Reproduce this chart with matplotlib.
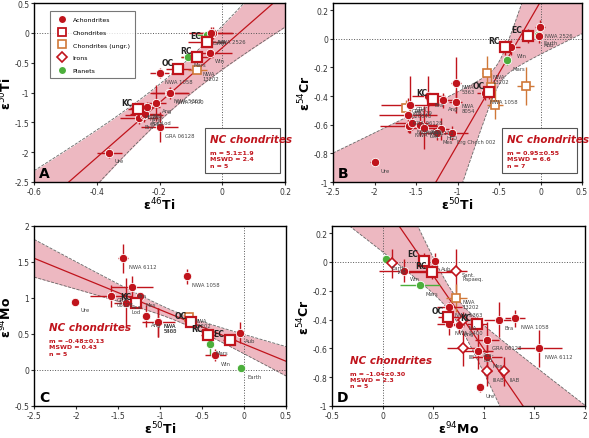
import numpy as np
import matplotlib
matplotlib.use("Agg")
import matplotlib.pyplot as plt
from matplotlib.patches import Rectangle
from matplotlib.lines import Line2D

RED = "#c0141c"; ORG = "#d07838"; GRN = "#4caf3c"; BAND = "#e8a0ac"

# ---------------- Panel A: e46Ti vs e50Ti ----------------
A_names = ["Ure","Bra","NWA\n6112","Aca-Lod","HED","KC","Mes","Ang","GRA 06128","NWA 5363","NWA 5400",
           "NWA 1058","OC","NWA\n13202","Mars","RC","EC","Win","Earth","NWA 2526","Aub"]
A_kind = ["a","a","a","a","a","c","a","a","a","a","a","a","c","u","p","c","c","a","p","a","a"]
A_x  = [-0.36,-0.265,-0.25,-0.245,-0.265,-0.27,-0.24,-0.21,-0.20,-0.17,-0.165,-0.20,-0.14,-0.08,-0.11,-0.08,-0.05,-0.04,-0.05,-0.03,-0.035]
A_y  = [-2.01,-1.43,-1.38,-1.36,-1.26,-1.28,-1.24,-1.17,-1.58,-1.00,-1.01,-0.67,-0.61,-0.63,-0.40,-0.41,-0.16,-0.33,-0.03,0.0,-0.01]
A_xe = [0.04,0.06,0.06,0.05,0.03,0.03,0.04,0.03,0.06,0.06,0.06,0.03,0.04,0.03,0.02,0.05,0.06,0.07,0.03,0.06,0.07]
A_ye = [0.08,0.10,0.12,0.10,0.05,0.06,0.08,0.30,0.25,0.08,0.10,0.08,0.07,0.05,0.02,0.06,0.08,0.06,0.03,0.10,0.10]

# ---------------- Panel B: e50Ti vs e54Cr ----------------
B_names = ["Ure","GRV\n020043","GRA\n06129","GRA 06128","NWA 7325","NWA 468","NWA 6112","Aca-\nLod","Bra","KC","Ang",
           "HED","Mes","Erg Chech 002","NWA\n5363","NWA\n8054","NWA 1058","OC","NWA\n13202","","","","Mars","RC","Win","EC","Earth","NWA 2526","Aub"]
B_kind = ["a","u","a","a","a","a","a","a","a","c","a","a","a","a","a","a","a","c","u","u","u","u","p","c","a","c","p","a","a"]
B_x  = [-2.0,-1.62,-1.57,-1.6,-1.58,-1.55,-1.45,-1.40,-1.35,-1.30,-1.18,-1.20,-1.25,-1.07,-1.02,-1.02,-0.67,-0.62,-0.65,-0.60,-0.55,-0.18,-0.40,-0.43,-0.35,-0.15,-0.03,-0.01,-0.02]
B_y  = [-0.86,-0.48,-0.46,-0.53,-0.61,-0.59,-0.60,-0.62,-0.40,-0.42,-0.43,-0.63,-0.66,-0.66,-0.31,-0.44,-0.38,-0.37,-0.24,-0.34,-0.46,-0.33,-0.15,-0.06,-0.06,0.02,0.03,0.08,0.02]
B_xe = [0.05,0.05,0.35,0.35,0.35,0.2,0.2,0.15,0.2,0.05,0.2,0.1,0.2,0.2,0.06,0.08,0.1,0.06,0.05,0.05,0.1,0.1,0.03,0.06,0.1,0.06,0.03,0.06,0.05]
B_ye = [0.03,0.05,0.20,0.12,0.05,0.05,0.08,0.15,0.14,0.03,0.05,0.08,0.05,0.05,0.18,0.08,0.05,0.05,0.12,0.10,0.10,0.13,0.03,0.05,0.05,0.05,0.03,0.05,0.05]

# ---------------- Panel C: e50Ti vs e94Mo ----------------
C_names = ["Ure","GRA\n06128","NWA 6112","Aca-\nLod","KC","Bra","Mes","Ang","NWA\n5363","NWA\n5400","NWA 1058","NWA\n13202","OC","RC","Mars","Win","EC","Aub","Earth"]
C_kind = ["a","a","a","a","c","a","a","a","a","a","a","u","c","c","p","a","c","a","p"]
C_x  = [-2.01,-1.58,-1.44,-1.40,-1.28,-1.33,-1.24,-1.17,-1.02,-1.02,-0.68,-0.66,-0.63,-0.43,-0.41,-0.34,-0.17,-0.05,-0.03]
C_y  = [0.95,1.03,1.55,0.93,0.93,1.15,1.03,0.75,0.66,0.66,1.30,0.73,0.67,0.49,0.36,0.21,0.41,0.52,0.03]
C_xe = [0.05,0.25,0.06,0.15,0.05,0.25,0.05,0.05,0.2,0.02,0.05,0.02,0.05,0.08,0.02,0.12,0.08,0.05,0.03]
C_ye = [0.03,0.15,0.20,0.35,0.05,0.15,0.03,0.15,0.20,0.20,0.10,0.08,0.05,0.08,0.15,0.08,0.05,0.15,0.02]

# ---------------- Panel D: e94Mo vs e54Cr ----------------
D_names = ["Earth","IAB","Win","Mars","EC","Aub","RC","Sant.\nPapaeq.","NWA\n13202","NWA 5363","OC","NWA 5400","Ang","IVA","KC","IIE",
           "Aca-\nLod","GRA 06128","Mes","IIIAB","IIAB","Ure","Bra","NWA 1058","NWA 6112"]
D_kind = ["p","i","a","p","c","a","c","i","u","a","c","a","a","i","c","i","a","a","a","i","i","a","a","a","a"]
D_x  = [0.03,0.09,0.21,0.37,0.41,0.52,0.49,0.73,0.73,0.66,0.65,0.66,0.75,0.79,0.93,0.79,0.94,1.03,1.03,1.03,1.20,0.96,1.15,1.31,1.55]
D_y  = [0.02,-0.01,-0.06,-0.16,0.01,0.01,-0.07,-0.06,-0.25,-0.31,-0.38,-0.43,-0.44,-0.40,-0.43,-0.60,-0.62,-0.54,-0.66,-0.76,-0.76,-0.87,-0.40,-0.39,-0.60]
D_xe = [0.02,0.05,0.25,0.20,0.04,0.03,0.25,0.10,0.10,0.12,0.10,0.12,0.05,0.05,0.10,0.15,0.15,0.12,0.15,0.05,0.05,0.03,0.15,0.10,0.22]
D_ye = [0.02,0.10,0.08,0.02,0.05,0.05,0.05,0.15,0.10,0.03,0.05,0.08,0.05,0.05,0.05,0.12,0.12,0.12,0.15,0.10,0.10,0.03,0.12,0.06,0.13]

# fit lines: slope, intercept, envelope centre, base half width, width growth
FITS = {"A": (4.6, -0.25, -0.15, 0.3, 1.4),
        "B": (1.0, 0.26, -0.5, 0.08, 0.72),
        "C": (-0.477, 0.36, -0.8, 0.06, 0.15),
        "D": (-1.02, 0.416, 0.7, 0.08, 0.48)}
FIT_TEXT = {"A": "m = 5.1±1.9\nMSWD = 2.4\nn = 5", "B": "m = 0.95±0.55\nMSWD = 6.6\nn = 7",
            "C": "m = –0.48±0.13\nMSWD = 0.43\nn = 5", "D": "m = –1.04±0.30\nMSWD = 2.3\nn = 5"}

fig = plt.figure(figsize=(5.89, 4.39), dpi=100)
W, H = 589, 439
def mk(l, r, t, b):
    return fig.add_axes([l / W, 1 - b / H, (r - l) / W, (b - t) / H])

axes = {"A": mk(34, 285, 4, 183), "B": mk(333, 582, 4, 183),
        "C": mk(34, 286, 227, 407), "D": mk(332, 585, 227, 407)}
lims = {"A": ((-0.6, 0.2), (-2.5, 0.5)), "B": ((-2.5, 0.5), (-1, 0.25)),
        "C": ((-2.5, 0.5), (-0.5, 2)), "D": ((-0.5, 2), (-1, 0.25))}
ticks = {"A": (np.arange(-0.6, 0.21, 0.2), np.arange(-2.5, 0.51, 0.5)),
         "B": (np.arange(-2.5, 0.51, 0.5), np.arange(-1, 0.21, 0.2)),
         "C": (np.arange(-2.5, 0.51, 0.5), np.arange(-0.5, 2.01, 0.5)),
         "D": (np.arange(-0.5, 2.01, 0.5), np.arange(-1, 0.21, 0.2))}
labels = {"A": ("ε$^{46}$Ti", "ε$^{50}$Ti"), "B": ("ε$^{50}$Ti", "ε$^{54}$Cr"),
          "C": ("ε$^{50}$Ti", "ε$^{94}$Mo"), "D": ("ε$^{94}$Mo", "ε$^{54}$Cr")}
data = {"A": (A_names, A_kind, A_x, A_y, A_xe, A_ye), "B": (B_names, B_kind, B_x, B_y, B_xe, B_ye),
        "C": (C_names, C_kind, C_x, C_y, C_xe, C_ye), "D": (D_names, D_kind, D_x, D_y, D_xe, D_ye)}
boxpos = {"A": (0.7, 0.08), "B": (0.7, 0.08), "C": (0.06, 0.28), "D": (0.07, 0.1)}

def fmt(v):
    s = ("%.1f" % v).rstrip("0").rstrip(".")
    return "0" if s in ("-0", "0") else s

for k, ax in axes.items():
    (x0, x1), (y0, y1) = lims[k]
    ax.set_xlim(x0, x1); ax.set_ylim(y0, y1)
    ax.set_xticks(ticks[k][0]); ax.set_yticks(ticks[k][1])
    ax.set_xticklabels([fmt(v) for v in ticks[k][0]])
    ax.set_yticklabels([fmt(v) for v in ticks[k][1]])
    ax.tick_params(labelsize=5.5, length=2, direction="out", pad=1.5, colors="#333")
    ax.set_xlabel(labels[k][0], fontsize=9, fontweight="bold", labelpad=0)
    ax.set_ylabel(labels[k][1], fontsize=9, fontweight="bold", labelpad=0)
    for s in ax.spines.values():
        s.set_linewidth(1.0)
    ax.axhline(0, color="#555", ls=":", lw=0.7, zorder=1)
    ax.axvline(0, color="#555", ls=":", lw=0.7, zorder=1)
    m, c, xc, s0, sm = FITS[k]
    xx = np.linspace(x0, x1, 200)
    yy = m * xx + c
    w = np.sqrt(s0 ** 2 + (sm * (xx - xc)) ** 2)
    ax.fill_between(xx, yy - w, yy + w, color=BAND, alpha=0.75, lw=0, zorder=0)
    ax.plot(xx, yy - w, color="#666", ls="--", lw=0.6, zorder=1)
    ax.plot(xx, yy + w, color="#666", ls="--", lw=0.6, zorder=1)
    ax.plot(xx, yy, color=RED, lw=0.9, zorder=2)

    names, kind, X, Y, XE, YE = data[k]
    for n, kd, x, y, xe, ye in zip(names, kind, X, Y, XE, YE):
        ecol = {"a": RED, "c": RED, "u": ORG, "i": RED, "p": GRN}[kd]
        ax.errorbar(x, y, xerr=xe, yerr=ye, fmt="none", ecolor=ecol, elinewidth=1.0, capsize=0, zorder=3)
        if kd == "a":
            ax.plot(x, y, "o", ms=6, mfc=RED, mec="white", mew=0.6, zorder=5)
        elif kd == "c":
            ax.plot(x, y, "s", ms=7.5, mfc="white", mec=RED, mew=1.6, zorder=6)
        elif kd == "u":
            ax.plot(x, y, "s", ms=6, mfc="white", mec=ORG, mew=1.2, zorder=5)
        elif kd == "i":
            ax.plot(x, y, "D", ms=5.5, mfc="white", mec=RED, mew=1.2, zorder=5)
        else:
            ax.plot(x, y, "o", ms=6, mfc=GRN, mec="white", mew=0.6, zorder=5)
        if kd == "c":
            ax.annotate(n, (x, y), xytext=(-12, 3), textcoords="offset points", fontsize=5.5,
                        fontweight="bold", color="#222", zorder=7)
        elif n:
            ax.annotate(n, (x, y), xytext=(4, -7), textcoords="offset points", fontsize=3.8,
                        color="#444", zorder=7, linespacing=0.95)
    ax.text(0.02, 0.03, k, transform=ax.transAxes, fontsize=10, fontweight="bold", zorder=8)
    bx, by = boxpos[k]
    ax.text(bx, by, FIT_TEXT[k], transform=ax.transAxes, fontsize=4.5, fontweight="bold",
            color=RED, va="bottom", zorder=8, linespacing=1.3)
    ax.text(bx, by + 0.13, "NC chondrites", transform=ax.transAxes, fontsize=7.5, style="italic",
            fontweight="bold", color=RED, va="bottom", zorder=8)
    if k in ("A", "B"):
        ax.add_patch(Rectangle((bx - 0.02, by - 0.03), 0.3, 0.25, transform=ax.transAxes,
                               fc="white", ec="#555", lw=0.8, zorder=7))

h = [Line2D([], [], ls="", marker="o", ms=6, mfc=RED, mec="white"),
     Line2D([], [], ls="", marker="s", ms=6, mfc="white", mec=RED, mew=1.3),
     Line2D([], [], ls="", marker="s", ms=6, mfc="white", mec=ORG, mew=1.2),
     Line2D([], [], ls="", marker="D", ms=5, mfc="white", mec=RED, mew=1.2),
     Line2D([], [], ls="", marker="o", ms=6, mfc=GRN, mec="white")]
leg = axes["A"].legend(h, ["Achondrites", "Chondrites", "Chondrites (ungr.)", "Irons", "Planets"],
                       loc="upper left", bbox_to_anchor=(0.05, 0.97), fontsize=4.5, frameon=True,
                       fancybox=False, edgecolor="#555", labelspacing=1.15, handletextpad=0.8,
                       borderpad=0.9)
leg.get_frame().set_linewidth(0.8)
leg.set_zorder(9)

fig.savefig("out.png", dpi=100)
